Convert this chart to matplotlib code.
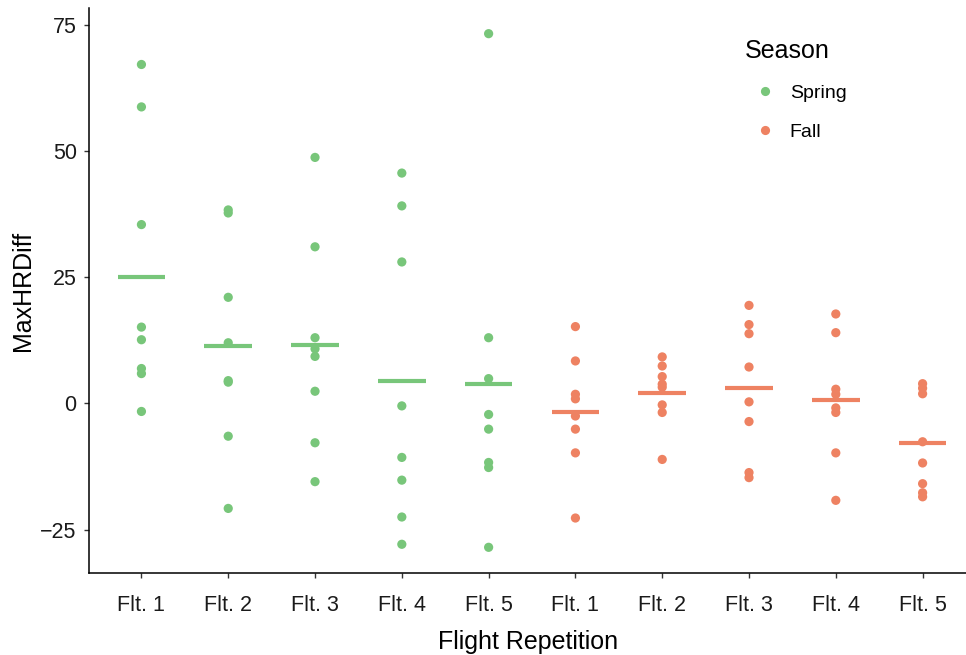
import numpy as np
import matplotlib
matplotlib.use("Agg")
import matplotlib.pyplot as plt
from matplotlib.lines import Line2D

plt.rcParams["font.family"] = ["Liberation Sans", "DejaVu Sans"]

# Data
flights = ["Flt. 1", "Flt. 2", "Flt. 3", "Flt. 4", "Flt. 5"]
seasons = ["Spring", "Fall"]

spring_vals = [
    [67.1, 58.7, 35.4, 15.1, 12.6, 6.9, 5.9, -1.6],
    [38.3, 37.7, 21.0, 12.0, 4.5, 4.2, -6.5, -20.8],
    [48.7, 31.0, 13.0, 10.8, 9.3, 2.4, -7.8, -15.5],
    [45.6, 39.1, 28.0, -0.5, -10.7, -15.2, -22.5, -27.9],
    [73.2, 13.0, 4.9, -2.2, -5.1, -11.7, -12.7, -28.5],
]
fall_vals = [
    [15.2, 8.4, 1.8, 0.9, -2.5, -5.1, -9.8, -22.7],
    [9.2, 7.4, 5.3, 3.8, 3.2, -0.3, -1.8, -11.1],
    [19.4, 15.6, 13.8, 7.2, 0.3, -3.6, -13.7, -14.7],
    [17.7, 14.0, 2.8, 1.8, -0.9, -1.8, -9.8, -19.2],
    [3.9, 3.0, 1.9, -7.6, -11.8, -15.9, -17.7, -18.5],
]

COLORS = {"Spring": "#78C67A", "Fall": "#EE8262"}

fig = plt.figure(figsize=(9.66, 6.55), dpi=100)
ax = fig.add_axes([0.0925, 0.1252, 0.9075, 0.8626])

groups = [("Spring", v) for v in spring_vals] + [("Fall", v) for v in fall_vals]
labels = flights + flights

for i, (season, vals) in enumerate(groups):
    c = COLORS[season]
    ax.scatter(np.full(len(vals), i), vals, s=44, color=c, edgecolors="none", zorder=3)
    ax.hlines(np.mean(vals), i - 0.275, i + 0.275, color=c, linewidth=3, zorder=2)

ax.set_xlim(-0.6, 9.5)
all_vals = [x for _, v in groups for x in v]
lo, hi = min(all_vals), max(all_vals)
pad = (hi - lo) * 0.05
ax.set_ylim(lo - pad, hi + pad)

ax.set_xticks(range(len(labels)))
ax.set_xticklabels(labels)
ax.set_yticks([-25, 0, 25, 50, 75])
ax.set_yticklabels(["\u221225", "0", "25", "50", "75"])

for side in ["top", "right"]:
    ax.spines[side].set_visible(False)
for side in ["left", "bottom"]:
    ax.spines[side].set_linewidth(1.1)
    ax.spines[side].set_color("black")

ax.tick_params(axis="both", length=3.6, width=1.0, color="#333333",
               labelsize=15.5, labelcolor="#1a1a1a")
ax.tick_params(axis="x", pad=12)
ax.tick_params(axis="y", pad=5.5)

ax.set_xlabel("Flight Repetition", fontsize=18, labelpad=10)
ax.set_ylabel("MaxHRDiff", fontsize=18, labelpad=4)

handles = [
    Line2D([], [], marker="o", linestyle="none", markersize=6.6,
           markerfacecolor=COLORS[s], markeredgecolor="none", label=s)
    for s in seasons
]
leg = ax.legend(handles=handles, title="Season", loc="upper left",
                bbox_to_anchor=(0.748, 0.946), frameon=False, fontsize=14,
                title_fontsize=18, labelspacing=1.1, handletextpad=0.3,
                borderpad=0, borderaxespad=0, alignment="left")

fig.savefig("out.png", dpi=100)
